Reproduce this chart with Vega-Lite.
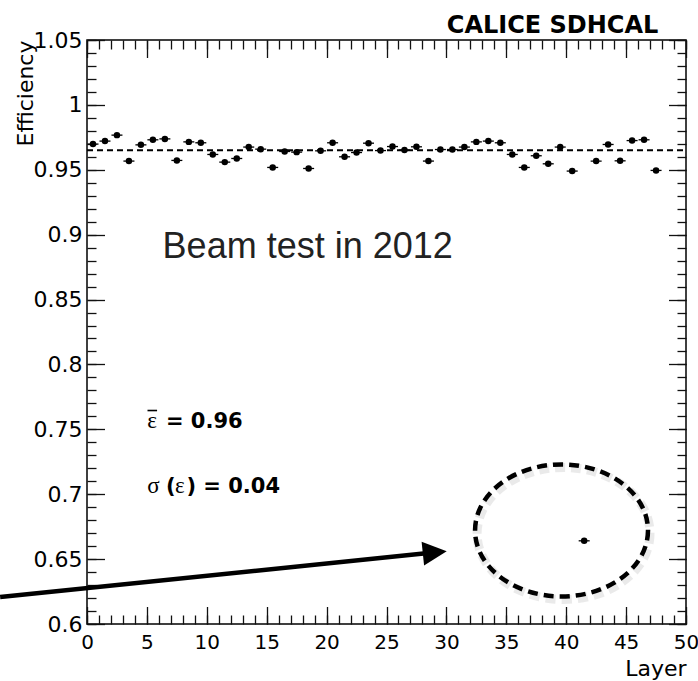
{
  "$schema": "https://vega.github.io/schema/vega-lite/v6.json",
  "width": 599,
  "height": 584,
  "autosize": {"type": "none"},
  "padding": {"left": 87, "top": 40, "right": 12, "bottom": 57},
  "background": "white",
  "config": {
    "view": {"stroke": "black", "strokeWidth": 1.5},
    "axis": {
      "grid": false,
      "domain": false,
      "labelFont": "DejaVu Sans",
      "titleFont": "DejaVu Sans",
      "tickColor": "#111",
      "tickWidth": 1.3,
      "labelColor": "black",
      "titleColor": "black",
      "titleFontWeight": "normal",
      "labelOverlap": false,
      "labelFlush": false,
      "labelBound": false
    }
  },
  "datasets": {
    "eff": [
      {"layer": 0.5, "eff": 0.9698}, {"layer": 1.5, "eff": 0.9721}, {"layer": 2.5, "eff": 0.9767},
      {"layer": 3.5, "eff": 0.9567}, {"layer": 4.5, "eff": 0.9692}, {"layer": 5.5, "eff": 0.9731},
      {"layer": 6.5, "eff": 0.9738}, {"layer": 7.5, "eff": 0.9572}, {"layer": 8.5, "eff": 0.9715},
      {"layer": 9.5, "eff": 0.9708}, {"layer": 10.5, "eff": 0.9618}, {"layer": 11.5, "eff": 0.9559},
      {"layer": 12.5, "eff": 0.9587}, {"layer": 13.5, "eff": 0.9675}, {"layer": 14.5, "eff": 0.9659},
      {"layer": 15.5, "eff": 0.9518}, {"layer": 16.5, "eff": 0.9641}, {"layer": 17.5, "eff": 0.9636},
      {"layer": 18.5, "eff": 0.9510}, {"layer": 19.5, "eff": 0.9646}, {"layer": 20.5, "eff": 0.9708},
      {"layer": 21.5, "eff": 0.9600}, {"layer": 22.5, "eff": 0.9633}, {"layer": 23.5, "eff": 0.9705},
      {"layer": 24.5, "eff": 0.9648}, {"layer": 25.5, "eff": 0.9679}, {"layer": 26.5, "eff": 0.9652},
      {"layer": 27.5, "eff": 0.9677}, {"layer": 28.5, "eff": 0.9567}, {"layer": 29.5, "eff": 0.9656},
      {"layer": 30.5, "eff": 0.9656}, {"layer": 31.5, "eff": 0.9675}, {"layer": 32.5, "eff": 0.9715},
      {"layer": 33.5, "eff": 0.9721}, {"layer": 34.5, "eff": 0.9708}, {"layer": 35.5, "eff": 0.9618},
      {"layer": 36.5, "eff": 0.9518}, {"layer": 37.5, "eff": 0.9608}, {"layer": 38.5, "eff": 0.9546},
      {"layer": 39.5, "eff": 0.9675}, {"layer": 40.5, "eff": 0.9490}, {"layer": 41.5, "eff": 0.6641},
      {"layer": 42.5, "eff": 0.9567}, {"layer": 43.5, "eff": 0.9695}, {"layer": 44.5, "eff": 0.9569},
      {"layer": 45.5, "eff": 0.9725}, {"layer": 46.5, "eff": 0.9731}, {"layer": 47.5, "eff": 0.9495}
    ],
    "arrow": [
      {"layer": -7.25, "eff": 0.6208},
      {"layer": 28.5, "eff": 0.6547}
    ],
    "arrowhead": [{"layer": 29.03, "eff": 0.6552}],
    "ellipse": [{"layer": 39.61, "eff": 0.6721}],
    "macron": [{"layer": 5.05, "layer2": 5.85, "eff": 0.7645}],
    "serif": [
      {"layer": 5.03, "eff": 0.7511, "t": "ε"},
      {"layer": 5.03, "eff": 0.701, "t": "σ"},
      {"layer": 7.35, "eff": 0.701, "t": "ε"}
    ],
    "bold": [
      {"layer": 6.59, "eff": 0.7511, "t": "= 0.96"},
      {"layer": 6.59, "eff": 0.701, "t": "("},
      {"layer": 8.3, "eff": 0.701, "t": ") = 0.04"}
    ],
    "beam": [{"layer": 6.31, "eff": 0.8819, "t": "Beam test in 2012"}],
    "calice": [{"layer": 47.69, "eff": 1.0552, "t": "CALICE SDHCAL"}]
  },
  "resolve": {"axis": {"x": "independent", "y": "independent"}},
  "layer": [
    {
      "data": {"values": [{}]},
      "mark": {"type": "rule", "strokeDash": [6, 4], "strokeWidth": 2, "color": "black"},
      "encoding": {
        "x": {"datum": 0, "type": "quantitative", "scale": {"domain": [0, 50], "nice": false, "zero": false},
          "axis": {"orient": "bottom", "values": [0, 5, 10, 15, 20, 25, 30, 35, 40, 45, 50], "format": "d",
            "ticks": false, "tickSize": 0, "labelPadding": 8, "labelFontSize": 20,
            "title": "Layer", "titleFontSize": 22, "titleAnchor": "end", "titleAlign": "right",
            "titleBaseline": "alphabetic", "titleX": 599, "titleY": 51}},
        "x2": {"datum": 50},
        "y": {"datum": 0.965, "type": "quantitative", "scale": {"domain": [0.6, 1.05], "nice": false, "zero": false},
          "axis": {"orient": "left", "values": [0.6, 0.65, 0.7, 0.75, 0.8, 0.85, 0.9, 0.95, 1, 1.05], "format": "~g",
            "ticks": false, "tickSize": 0, "labelPadding": 5, "labelFontSize": 22,
            "title": "Efficiency", "titleFontSize": 22, "titleAngle": -90, "titleAlign": "right",
            "titleBaseline": "alphabetic", "titleX": -55, "titleY": 0}}
      }
    },
    {
      "data": {"name": "eff"},
      "mark": {"type": "tick", "orient": "horizontal", "size": 11, "thickness": 1.3, "color": "black", "opacity": 1},
      "encoding": {
        "x": {"field": "layer", "type": "quantitative", "scale": {"domain": [0, 50], "nice": false, "zero": false},
          "axis": {"orient": "bottom", "values": [0, 5, 10, 15, 20, 25, 30, 35, 40, 45, 50], "labels": false,
            "tickSize": -17.5, "title": null}},
        "y": {"field": "eff", "type": "quantitative", "scale": {"domain": [0.6, 1.05], "nice": false, "zero": false},
          "axis": {"orient": "left", "values": [0.6, 0.65, 0.7, 0.75, 0.8, 0.85, 0.9, 0.95, 1, 1.05], "labels": false,
            "tickSize": -17.5, "title": null}}
      }
    },
    {
      "data": {"name": "eff"},
      "mark": {"type": "circle", "size": 42, "color": "black", "opacity": 1},
      "encoding": {
        "x": {"field": "layer", "type": "quantitative", "scale": {"domain": [0, 50], "nice": false, "zero": false},
          "axis": {"orient": "bottom", "values": [0,1,2,3,4,5,6,7,8,9,10,11,12,13,14,15,16,17,18,19,20,21,22,23,24,25,26,27,28,29,30,31,32,33,34,35,36,37,38,39,40,41,42,43,44,45,46,47,48,49,50],
            "labels": false, "tickSize": -9, "title": null}},
        "y": {"field": "eff", "type": "quantitative", "scale": {"domain": [0.6, 1.05], "nice": false, "zero": false},
          "axis": {"orient": "left", "values": [0.6,0.61,0.62,0.63,0.64,0.65,0.66,0.67,0.68,0.69,0.7,0.71,0.72,0.73,0.74,0.75,0.76,0.77,0.78,0.79,0.8,0.81,0.82,0.83,0.84,0.85,0.86,0.87,0.88,0.89,0.9,0.91,0.92,0.93,0.94,0.95,0.96,0.97,0.98,0.99,1,1.01,1.02,1.03,1.04,1.05],
            "labels": false, "tickSize": -9, "title": null}}
      }
    },
    {
      "data": {"name": "arrow"},
      "mark": {"type": "line", "strokeWidth": 4.5, "color": "black", "clip": false},
      "encoding": {
        "x": {"field": "layer", "type": "quantitative", "scale": {"domain": [0, 50], "nice": false, "zero": false},
          "axis": {"orient": "top", "values": [0, 5, 10, 15, 20, 25, 30, 35, 40, 45, 50], "labels": false,
            "tickSize": -17.5, "title": null}},
        "y": {"field": "eff", "type": "quantitative", "scale": {"domain": [0.6, 1.05], "nice": false, "zero": false},
          "axis": {"orient": "right", "values": [0.6, 0.65, 0.7, 0.75, 0.8, 0.85, 0.9, 0.95, 1, 1.05], "labels": false,
            "tickSize": -17.5, "title": null}}
      }
    },
    {
      "data": {"name": "arrowhead"},
      "mark": {"type": "point", "shape": "M1,0L-1,-1L-1,1Z", "filled": true, "size": 576, "angle": -5.9, "color": "black", "opacity": 1},
      "encoding": {
        "x": {"field": "layer", "type": "quantitative", "scale": {"domain": [0, 50], "nice": false, "zero": false},
          "axis": {"orient": "top", "values": [0,1,2,3,4,5,6,7,8,9,10,11,12,13,14,15,16,17,18,19,20,21,22,23,24,25,26,27,28,29,30,31,32,33,34,35,36,37,38,39,40,41,42,43,44,45,46,47,48,49,50],
            "labels": false, "tickSize": -9, "title": null}},
        "y": {"field": "eff", "type": "quantitative", "scale": {"domain": [0.6, 1.05], "nice": false, "zero": false},
          "axis": {"orient": "right", "values": [0.6,0.61,0.62,0.63,0.64,0.65,0.66,0.67,0.68,0.69,0.7,0.71,0.72,0.73,0.74,0.75,0.76,0.77,0.78,0.79,0.8,0.81,0.82,0.83,0.84,0.85,0.86,0.87,0.88,0.89,0.9,0.91,0.92,0.93,0.94,0.95,0.96,0.97,0.98,0.99,1,1.01,1.02,1.03,1.04,1.05],
            "labels": false, "tickSize": -9, "title": null}}
      }
    },
    {
      "data": {"name": "ellipse"},
      "mark": {"type": "point", "shape": "M1.31,0C1.31,0.5523,0.7235,1,0,1C-0.7235,1,-1.31,0.5523,-1.31,0C-1.31,-0.5523,-0.7235,-1,0,-1C0.7235,-1,1.31,-0.5523,1.31,0Z",
        "filled": false, "size": 17424, "stroke": "#777", "strokeWidth": 9, "strokeDash": [10, 6], "opacity": 0.15, "xOffset": 2, "yOffset": 3},
      "encoding": {
        "x": {"field": "layer", "type": "quantitative", "scale": {"domain": [0, 50], "nice": false, "zero": false}, "axis": null},
        "y": {"field": "eff", "type": "quantitative", "scale": {"domain": [0.6, 1.05], "nice": false, "zero": false}, "axis": null}
      }
    },
    {
      "data": {"name": "ellipse"},
      "mark": {"type": "point", "shape": "M1.31,0C1.31,0.5523,0.7235,1,0,1C-0.7235,1,-1.31,0.5523,-1.31,0C-1.31,-0.5523,-0.7235,-1,0,-1C0.7235,-1,1.31,-0.5523,1.31,0Z",
        "filled": false, "size": 17424, "stroke": "black", "strokeWidth": 4.5, "strokeDash": [10, 6], "opacity": 1},
      "encoding": {
        "x": {"field": "layer", "type": "quantitative", "scale": {"domain": [0, 50], "nice": false, "zero": false}, "axis": null},
        "y": {"field": "eff", "type": "quantitative", "scale": {"domain": [0.6, 1.05], "nice": false, "zero": false}, "axis": null}
      }
    },
    {
      "data": {"name": "macron"},
      "mark": {"type": "rule", "strokeWidth": 1.6, "color": "black"},
      "encoding": {
        "x": {"field": "layer", "type": "quantitative", "scale": {"domain": [0, 50], "nice": false, "zero": false}, "axis": null},
        "x2": {"field": "layer2"},
        "y": {"field": "eff", "type": "quantitative", "scale": {"domain": [0.6, 1.05], "nice": false, "zero": false}, "axis": null}
      }
    },
    {
      "data": {"name": "serif"},
      "mark": {"type": "text", "font": "Liberation Serif", "fontSize": 23, "align": "left", "baseline": "alphabetic", "color": "black"},
      "encoding": {
        "x": {"field": "layer", "type": "quantitative", "scale": {"domain": [0, 50], "nice": false, "zero": false}, "axis": null},
        "y": {"field": "eff", "type": "quantitative", "scale": {"domain": [0.6, 1.05], "nice": false, "zero": false}, "axis": null},
        "text": {"field": "t"}
      }
    },
    {
      "data": {"name": "bold"},
      "mark": {"type": "text", "font": "DejaVu Sans", "fontWeight": "bold", "fontSize": 21, "align": "left", "baseline": "alphabetic", "color": "black"},
      "encoding": {
        "x": {"field": "layer", "type": "quantitative", "scale": {"domain": [0, 50], "nice": false, "zero": false}, "axis": null},
        "y": {"field": "eff", "type": "quantitative", "scale": {"domain": [0.6, 1.05], "nice": false, "zero": false}, "axis": null},
        "text": {"field": "t"}
      }
    },
    {
      "data": {"name": "beam"},
      "mark": {"type": "text", "font": "Liberation Sans", "fontSize": 36, "align": "left", "baseline": "alphabetic", "color": "#222"},
      "encoding": {
        "x": {"field": "layer", "type": "quantitative", "scale": {"domain": [0, 50], "nice": false, "zero": false}, "axis": null},
        "y": {"field": "eff", "type": "quantitative", "scale": {"domain": [0.6, 1.05], "nice": false, "zero": false}, "axis": null},
        "text": {"field": "t"}
      }
    },
    {
      "data": {"name": "calice"},
      "mark": {"type": "text", "font": "DejaVu Sans", "fontWeight": "bold", "fontSize": 24, "align": "right", "baseline": "alphabetic", "color": "black"},
      "encoding": {
        "x": {"field": "layer", "type": "quantitative", "scale": {"domain": [0, 50], "nice": false, "zero": false}, "axis": null},
        "y": {"field": "eff", "type": "quantitative", "scale": {"domain": [0.6, 1.05], "nice": false, "zero": false}, "axis": null},
        "text": {"field": "t"}
      }
    }
  ]
}
